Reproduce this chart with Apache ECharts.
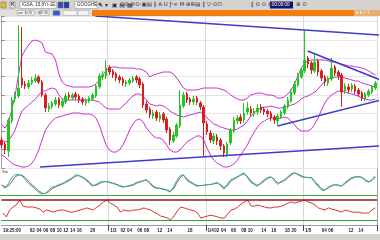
<!DOCTYPE html>
<html><head><meta charset="utf-8">
<script src="https://cdn.jsdelivr.net/npm/echarts/dist/echarts.min.js"></script>
<style>html,body{margin:0;padding:0;background:#fff;overflow:hidden}#c{width:380px;height:240px}</style>
</head><body><div id="c"></div>
<script>
// ---- price bars (open / close / low / high) ----
const opens = [28,24,17,47,69,72,90,84,81,85, 87,91,86,73,59,61,64,69,62,66, 73,70,74,72,69,65,67,69,72,81,
  91,92,101,97,94,91,89,84,85,87, 91,89,84,64,59,52,56,49,54,49, 39,27,32,42,62,74,69,66,70,65,
  61,44,35,27,31,28,22,14,25,37, 47,51,48,56,59,54,56,61,59,57, 55,51,47,51,55,61,67,75,83,91,
  97,110,105,97,107,97,91,85,89,101, 96,93,77,81,79,82,78,75,69,73, 76,80];
const closes = [23,18,48,68,73,80,83,82,85,88, 90,86,73,60,62,65,68,63,67,72, 71,73,71,68,66,68,70,73,82,92,
  93,100,96,93,90,88,85,86,88,90, 88,83,63,58,53,55,50,53,48,38, 28,33,43,63,73,68,66,69,66,61,
  45,36,28,32,27,22,15,24,38,48, 50,47,55,60,55,57,60,58,56,54, 50,48,52,56,62,68,76,84,92,98,
  108,104,98,106,96,90,86,90,100,95, 92,76,82,78,83,77,74,70,74,77, 81,85];
const lows = [20,14,11,45,66,70,80,79,79,83, 85,84,71,56,56,59,62,60,60,64, 68,68,68,65,63,62,65,67,70,79,
  88,89,93,90,87,85,82,81,83,85, 85,80,60,55,50,49,47,46,45,35, 23,25,30,40,60,65,63,63,63,58,
  12,33,25,24,23,18,11,11,23,35, 44,44,45,53,52,51,53,55,53,51, 47,44,43,49,53,59,65,73,81,89,
  95,100,94,95,92,87,82,82,87,92, 88,61,74,75,76,74,71,67,67,71, 74,78];
const highs = [31,26,50,71,76,143,141,87,88,91, 94,93,88,75,65,67,71,71,70,75, 76,75,76,74,71,70,72,75,84,95,
  97,108,103,99,96,93,91,88,90,92, 93,91,86,67,61,58,58,56,56,51, 41,36,45,78,76,76,71,72,72,67,
  63,47,38,35,34,30,24,26,40,51, 53,54,65,66,62,60,64,64,61,59, 57,53,54,58,64,71,79,87,95,101,
  138,112,107,115,109,99,93,92,110,103, 98,95,85,84,85,84,80,77,76,79, 83,87];

// ---- Bollinger bands ----
const bbUpper = [43,40,46,58,73,93,112,118,123,127, 128,127,125,116,115,114,108,94,86,83, 82,81,81,81,81,81,81,82,84,88,
  93,97,100,101,101,100,100,100,100,100, 99,99,98,96,91,93,94,95,96,96, 96,94,90,85,80,78,78,78,78,79,
  80,80,80,80,80,79,78,76,73,71, 69,68,68,70,73,74,75,75,74,73, 73,72,70,70,71,74,78,84,92,100,
  105,107,108,108,108,108,108,107,106,106, 105,104,103,102,102,101,101,100,99,97, 95,93];
const bbMiddle = [28,26,27,32,38,48,57,60,63,66, 69,73,77,77,79,80,79,73,69,68, 68,68,68,68,68,68,68,68,67,66,
  63,60,59,59,59,59,62,65,69,72, 74,74,72,68,64,63,62,63,62,60, 57,55,53,52,51,52,53,54,55,56,
  54,50,47,44,43,41,40,39,38,38, 39,41,43,47,52,55,58,60,61,61, 62,61,60,60,61,62,63,64,66,69,
  71,72,74,76,79,83,87,89,90,91, 91,91,90,89,88,87,87,85,84,83, 82,81];
const bbLower = [13,11,8,5,3,2,1,1,2,5, 10,18,28,38,43,47,50,51,52,53, 54,55,55,55,54,54,54,53,50,43,
  33,23,18,16,16,18,23,30,38,44, 48,49,46,40,36,32,30,30,28,23, 18,16,16,18,22,26,28,30,32,32,
  28,20,13,8,5,3,1,1,2,4, 8,13,18,23,30,36,41,45,47,49, 50,50,49,50,51,50,47,43,39,37,
  37,37,39,44,50,58,65,70,73,75, 77,77,76,75,74,73,72,70,69,68, 68,69];

// ---- trend lines: [barIndex, price] end points ----
const trendTop = [[27.8,152],[112.6,133]];
const trendBottom = [[11.4,1],[112.6,22]];
const trendRising = [[81.9,42],[112.6,68]];
const trendFalling = [[90.9,117],[112.6,88]];

// ---- oscillators ----
const stochK = [45,32,48,68,78,78,74,61,48,39, 29,19,13,16,26,36,39,45,48,55, 61,68,78,74,68,61,48,39,45,52,
  55,55,52,48,45,39,36,39,42,45, 52,55,58,61,48,36,32,32,29,26, 19,36,58,74,78,58,52,45,39,42,
  42,45,45,48,52,42,29,45,61,65, 71,78,84,68,52,45,39,52,61,68, 71,58,45,55,61,71,81,84,78,71,
  68,68,68,52,39,26,26,36,42,45, 42,39,52,61,68,71,71,68,58,52, 61,74];
const stochD = [42,38,40,55,70,77,76,68,55,44, 34,24,16,15,21,31,37,42,46,52, 58,65,73,75,70,64,53,43,42,48,
  53,55,53,50,46,42,38,38,40,43, 49,53,57,60,52,40,34,32,30,27, 22,30,50,68,76,64,55,48,42,41,
  42,44,45,47,50,45,34,40,55,63, 69,76,81,72,57,48,42,48,57,65, 70,62,50,52,58,67,77,83,80,74,
  70,68,68,56,43,31,27,33,40,44, 43,40,48,57,65,70,71,69,61,55, 58,70];
const stochLevel = 10;
const rsi = [45,32,55,65,72,88,68,65,65,65, 62,58,48,55,52,48,52,55,55,52, 48,48,52,55,58,62,58,55,65,72,
  82,88,78,72,65,48,55,52,52,55, 55,58,62,58,55,48,42,35,32,28, 22,35,52,65,62,58,55,52,45,28,
  32,35,38,35,32,28,28,42,55,58, 65,75,82,88,68,68,72,68,65,62, 62,65,65,68,72,78,82,78,82,85,
  88,82,78,72,62,58,55,62,58,55, 52,48,55,52,48,48,48,45,45,45, 55,62];
const rsiLevels = [90, 20];

// ---- time axis labels ----
const dayBreaks = [32, 61, 90];
const axisTexts = {0:'19:25:00', 32:'1/3', 61:'1/4', 90:'1/5',
  8:'02',10:'04',12:'06',14:'08',16:'10',18:'12',20:'14',22:'16',26:'20',
  35:'02',37:'04',40:'06',42:'08',46:'12',49:'14',55:'18',
  63:'02',65:'04',68:'06',71:'08',73:'10',77:'14',80:'16',84:'18',86:'20',
  95:'04',97:'06',103:'12',106:'14'};

const categories = closes.map((_, i) => String(i));
const candleData = closes.map((c, i) => [opens[i], c, lows[i], highs[i]]);

const chart = echarts.init(document.getElementById('c'), null, {renderer: 'canvas'});
const F = 'Liberation Sans';
const magenta = '#cc30cc';
const blue = '#3c3cc8';
const gl = {left: 0, right: 3};
const hiddenCat = (g) => ({type: 'category', gridIndex: g, data: categories, boundaryGap: true,
  axisLine: {show: false}, axisTick: {show: false}, axisLabel: {show: false},
  splitLine: {show: true, interval: (i) => dayBreaks.includes(i), lineStyle: {color: '#d8d8d8', width: 1}}});

function icon(x, color, w) { return {type: 'rect', shape: {x: x, y: 2, width: w || 5, height: 6}, style: {fill: color, stroke: '#666', lineWidth: 0.5}}; }

const graphic = [
  {type: 'rect', shape: {x: 0, y: 0, width: 380, height: 10}, style: {fill: '#d6d3ce'}, z: 100},
  Object.assign(icon(1, '#e0c030'), {z: 101}),
  Object.assign(icon(10, '#f4f4f4'), {z: 101}),
  {type: 'text', x: 11, y: 5, style: {text: 'K', font: 'bold 5px ' + F, fill: '#333', verticalAlign: 'middle'}, z: 102},
  {type: 'rect', shape: {x: 20, y: 1.5, width: 36, height: 7}, style: {fill: '#fff', stroke: '#888', lineWidth: 0.5}, z: 101},
  {type: 'text', x: 22, y: 5, style: {text: 'IGSA, 15,8Y/-1E', font: '4.5px ' + F, fill: '#222', verticalAlign: 'middle'}, z: 102},
  Object.assign(icon(58, '#3050c0'), {z: 101}),
  Object.assign(icon(64, '#2040a0'), {z: 101}),
  {type: 'rect', shape: {x: 75, y: 1.5, width: 22, height: 7}, style: {fill: '#fff', stroke: '#888', lineWidth: 0.5}, z: 101},
  {type: 'text', x: 77, y: 5, style: {text: 'GOOGHE ▾', font: '4.5px ' + F, fill: '#222', verticalAlign: 'middle'}, z: 102},
  {type: 'text', x: 98, y: 5, style: {text: '✎ ▾  ▣ ▤ ▦', font: '6px DejaVu Sans', fill: '#334', verticalAlign: 'middle'}, z: 102},
  {type: 'text', x: 120, y: 5, style: {text: 'G⊙·⊘⊙·▣▤ ‖ A·U ƒ·∞ M·⊕⊞▤ ‖ ▽·⊙⊡', font: '5.5px DejaVu Sans', fill: '#335', verticalAlign: 'middle'}, z: 102},
  {type: 'text', x: 251, y: 5, style: {text: '‖ ⊙ ⊙ ▣', font: '5.5px DejaVu Sans', fill: '#335', verticalAlign: 'middle'}, z: 102},
  {type: 'rect', shape: {x: 270, y: 1.5, width: 23, height: 7}, style: {fill: '#15156a'}, z: 101},
  {type: 'text', x: 272, y: 5, style: {text: '00:00:00', font: '4.5px ' + F, fill: '#fff', verticalAlign: 'middle'}, z: 102},
  {type: 'text', x: 296, y: 5, style: {text: '⊕ ⊙', font: '5.5px DejaVu Sans', fill: '#335', verticalAlign: 'middle'}, z: 102},
  {type: 'rect', shape: {x: 0, y: 10, width: 380, height: 6}, style: {fill: '#e2e0dc'}, z: 100},
  {type: 'rect', shape: {x: 92, y: 10, width: 262, height: 6}, style: {fill: '#f07f10'}, z: 101},
  {type: 'rect', shape: {x: 354, y: 10, width: 26, height: 6}, style: {fill: '#e8b070'}, z: 101},
  {type: 'text', x: 356, y: 13, style: {text: 'E E T T', font: '4px ' + F, fill: '#fff', verticalAlign: 'middle'}, z: 102},
  {type: 'rect', shape: {x: 17, y: 10.5, width: 9, height: 5}, style: {fill: '#f4f4f4', stroke: '#999', lineWidth: 0.5}, z: 101},
  {type: 'rect', shape: {x: 28, y: 10.5, width: 6, height: 5}, style: {fill: '#f4f4f4', stroke: '#999', lineWidth: 0.5}, z: 101},
  {type: 'rect', shape: {x: 40, y: 10.5, width: 9, height: 5}, style: {fill: '#f4f4f4', stroke: '#999', lineWidth: 0.5}, z: 101},
  {type: 'rect', shape: {x: 53, y: 10.5, width: 7, height: 5}, style: {fill: '#3a5ad0', stroke: '#999', lineWidth: 0.5}, z: 101},
  {type: 'rect', shape: {x: 63, y: 10.5, width: 14, height: 5}, style: {fill: '#f4f4f4', stroke: '#999', lineWidth: 0.5}, z: 101},
  {type: 'rect', shape: {x: 78, y: 10.5, width: 11, height: 5}, style: {fill: '#f4f4f4', stroke: '#999', lineWidth: 0.5}, z: 101},
  {type: 'text', x: 18, y: 13, style: {text: 'am  ll   lll   ·   lllll  llll', font: '3.5px ' + F, fill: '#444', verticalAlign: 'middle'}, z: 102},
  {type: 'text', x: 2, y: 171.5, style: {text: 'Sto', font: '4px ' + F, fill: '#444', verticalAlign: 'middle'}, z: 102},
  {type: 'rect', shape: {x: 0, y: 234, width: 380, height: 6}, style: {fill: '#d6d3ce'}, z: 100}
];

const option = {
  animation: false,
  backgroundColor: '#ffffff',
  graphic: graphic,
  grid: [
    Object.assign({top: 16, height: 152}, gl),
    Object.assign({top: 168, height: 30}, gl),
    Object.assign({top: 198, height: 27}, gl)
  ],
  xAxis: [
    hiddenCat(0), hiddenCat(1),
    Object.assign(hiddenCat(2), {
      axisLine: {show: true, lineStyle: {color: '#9a9a9a'}},
      axisTick: {show: true, interval: (i) => dayBreaks.includes(i), length: 6, lineStyle: {color: '#444'}},
      axisLabel: {show: true, interval: (i) => axisTexts[i] !== undefined, formatter: (v, i) => axisTexts[i] || '',
        align: 'left', fontSize: 4.5, fontFamily: F, fontWeight: 'bold', color: '#222', margin: 3}
    }),
    {type: 'value', gridIndex: 0, min: -0.5, max: 111.5, show: false}
  ],
  yAxis: [
    {type: 'value', gridIndex: 0, min: 0, max: 152, interval: 18.3, position: 'right',
      axisLine: {show: true, lineStyle: {color: '#a0a0a0'}}, axisTick: {show: true, length: 3, lineStyle: {color: '#888'}},
      axisLabel: {show: false}, splitLine: {show: true, lineStyle: {color: '#e6e6e6'}}},
    {type: 'value', gridIndex: 1, min: 0, max: 100, position: 'right', axisLine: {show: true, lineStyle: {color: '#a0a0a0'}},
      axisTick: {show: false}, axisLabel: {show: false}, splitLine: {show: false}},
    {type: 'value', gridIndex: 2, min: 5, max: 95, position: 'right', axisLine: {show: true, lineStyle: {color: '#a0a0a0'}},
      axisTick: {show: false}, axisLabel: {show: false}, splitLine: {show: false}}
  ],
  series: [
    {type: 'line', xAxisIndex: 0, yAxisIndex: 0, data: bbUpper, symbol: 'none', silent: true, lineStyle: {color: magenta, width: 1}, z: 2},
    {type: 'line', xAxisIndex: 0, yAxisIndex: 0, data: bbMiddle, symbol: 'none', silent: true, lineStyle: {color: magenta, width: 1}, z: 2},
    {type: 'line', xAxisIndex: 0, yAxisIndex: 0, data: bbLower, symbol: 'none', silent: true, lineStyle: {color: magenta, width: 1}, z: 2},
    {type: 'candlestick', xAxisIndex: 0, yAxisIndex: 0, data: candleData, barWidth: 2, z: 3,
      itemStyle: {color: '#22c822', color0: '#d82020', borderColor: '#22c822', borderColor0: '#d82020', borderWidth: 1}},
    {type: 'line', xAxisIndex: 3, yAxisIndex: 0, data: trendTop, symbol: 'none', silent: true, lineStyle: {color: blue, width: 1.5}, z: 4},
    {type: 'line', xAxisIndex: 3, yAxisIndex: 0, data: trendBottom, symbol: 'none', silent: true, lineStyle: {color: blue, width: 1.5}, z: 4},
    {type: 'line', xAxisIndex: 3, yAxisIndex: 0, data: trendRising, symbol: 'none', silent: true, lineStyle: {color: blue, width: 1.5}, z: 4},
    {type: 'line', xAxisIndex: 3, yAxisIndex: 0, data: trendFalling, symbol: 'none', silent: true, lineStyle: {color: blue, width: 1.5}, z: 4},
    {type: 'line', xAxisIndex: 1, yAxisIndex: 1, data: stochD, symbol: 'none', silent: true, lineStyle: {color: '#9a5a5a', width: 1}, z: 3},
    {type: 'line', xAxisIndex: 1, yAxisIndex: 1, data: stochK, symbol: 'none', silent: true, lineStyle: {color: '#20b8b0', width: 1}, z: 4,
      markLine: {silent: true, symbol: 'none', label: {show: false}, lineStyle: {color: '#44aa44', width: 1, type: 'solid'}, data: [{yAxis: stochLevel}]}},
    {type: 'line', xAxisIndex: 2, yAxisIndex: 2, data: rsi, symbol: 'none', silent: true, lineStyle: {color: '#e03030', width: 1}, z: 4,
      markLine: {silent: true, symbol: 'none', label: {show: false}, data: [
        {yAxis: rsiLevels[0], lineStyle: {color: '#8b1c1c', width: 1.5, type: 'solid'}},
        {yAxis: rsiLevels[1], lineStyle: {color: '#3a9a3a', width: 1, type: 'solid'}}]}}
  ]
};
chart.setOption(option);
</script>
</body></html>
